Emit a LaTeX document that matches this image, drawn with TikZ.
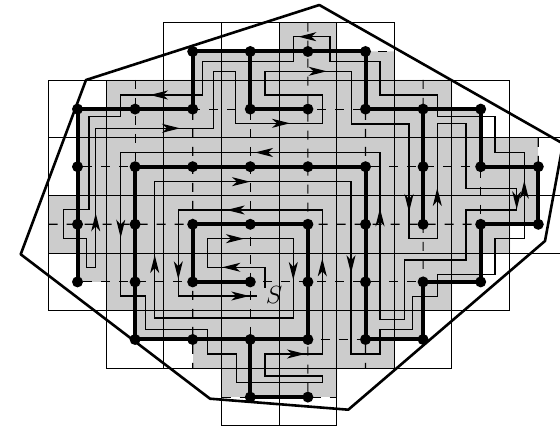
\documentclass[tikz,border=0pt]{standalone}
\usepackage{xcolor}
\usetikzlibrary{arrows.meta}

\begin{document}
\begin{tikzpicture}[x=1pt, y=-1pt,
  cell/.style={line width=1.15pt},
  vertex/.style={circle, fill=black, inner sep=0pt, outer sep=0pt, minimum size=11pt},
  treeedge/.style={line width=4pt},
  dualedge/.style={line width=1.15pt, dash pattern=on 9pt off 9pt},
  contour/.style={line width=1.15pt},
  dirtip/.style={line width=1.3pt, -{Stealth[length=18pt, width=9pt, inset=5pt]}},
  hull/.style={line width=2.6pt, line join=round}]
\clip (0,0) rectangle (560,427);
\fill[black!20] (279,22.7) -- (337,22.7) -- (337,51.5) -- (394.5,51.5) -- (394.5,80) -- (452,80) -- (452,109) -- (481,109) -- (481,138) -- (538,138) -- (538,224) -- (510,224) -- (510,253) -- (481,253) -- (481,282) -- (452,282) -- (452,310.7) -- (423,310.7) -- (423,339.5) -- (394.5,339.5) -- (394.5,368.3) -- (337,368.3) -- (337,397) -- (221.5,397) -- (221.5,368.3) -- (193,368.3) -- (193,339.5) -- (135,339.5) -- (135,310.7) -- (106.6,310.7) -- (106.6,282) -- (77.5,282) -- (77.5,253) -- (48.7,253) -- (48.7,195.3) -- (77.5,195.3) -- (77.5,109) -- (106.6,109) -- (106.6,80) -- (193,80) -- (193,51.5) -- (279,51.5) -- cycle;
\foreach \r/\first/\last in {0/2/5, 1/0/7, 2/0/8, 3/0/8, 4/0/7, 5/1/6, 6/3/4}
  \foreach \c in {\first,...,\last}
    \draw[cell] ({48.7+57.6*\c},{22.7+57.6*\r}) rectangle +(57.6,57.6);
\foreach \r/\first/\last in {0/2/5, 1/0/7, 2/0/8, 3/0/8, 4/0/7, 5/1/6, 6/3/4}
  \foreach \c in {\first,...,\last}
    \node[vertex] (n\c-\r) at ({77.5+57.6*\c},{51.5+57.6*\r}) {};
\coordinate (endrowa) at (394.5,51.5);
\coordinate (startrowd) at (48.7,224.3);
\coordinate (startrowg) at (221.5,397.1);
\coordinate (endrowg) at (337,397.1);
\coordinate (topb) at (135.1,80);
\coordinate (botc) at (192.7,368.3);
\coordinate (tope) at (307.9,22.7);
\coordinate (botf) at (365.5,368.3);
\coordinate (topg) at (423.1,80);
\coordinate (topi) at (538.3,138);
\foreach \a/\b in {n2-0/endrowa, n0-1/n7-1, n0-2/n8-2, startrowd/n8-3, n0-4/n7-4, n1-5/n6-5, startrowg/endrowg,
  topb/n1-5, n2-0/botc, n3-0/n3-6, tope/n4-6, n5-0/botf, topg/n6-5, n7-1/n7-4, topi/n8-3}
  \draw[dualedge] (\a) -- (\b);
\foreach \a/\b in {n0-4/n0-1, n0-1/n2-1, n2-1/n2-0, n2-0/n5-0, n5-0/n5-1, n5-1/n7-1, n7-1/n7-2, n7-2/n8-2, n8-2/n8-3, n8-3/n7-3, n7-3/n7-4, n7-4/n6-4, n6-4/n6-5, n6-5/n5-5, n5-5/n5-2, n5-2/n1-2, n1-2/n1-5, n1-5/n4-5, n4-5/n4-3, n4-3/n2-3, n2-3/n2-4, n2-4/n3-4, n3-0/n3-1, n3-1/n4-1, n6-1/n6-3, n3-5/n3-6, n3-6/n4-6}
  \draw[treeedge] (\a.center) -- (\b.center);
\draw[contour] (265,288) -- (265,267.3) -- (207.3,267.3) -- (207.3,238.7) -- (293.3,238.7) -- (293.3,318) -- (154.7,318) -- (154.7,181.7) -- (351,181.7) -- (351,354) -- (380,354) -- (380,329.7) -- (412.3,329.7) -- (412.3,296.3) -- (437.3,296.3) -- (437.3,274.7) -- (495,274.7) -- (495,238.7) -- (524.3,238.7) -- (524.3,152.5) -- (495,152.5) -- (495,116.7) -- (437.3,116.7) -- (437.3,95) -- (380,95) -- (380,61.7) -- (330,61.7) -- (330,36.7) -- (293.3,36.7) -- (293.3,61.3) -- (202.7,61.3) -- (202.7,95) -- (120.7,95) -- (120.7,116.7) -- (89,116.7) -- (89,209.3) -- (63.3,209.3) -- (63.3,238.3) -- (86.7,238.3) -- (86.7,267.3) -- (95.7,267.3) -- (95.7,128.3) -- (213.3,128.3) -- (213.3,71.5) -- (235.7,71.5) -- (235.7,123.3) -- (322.7,123.3) -- (322.7,95) -- (265,95) -- (265,71.3) -- (351.3,71.3) -- (351.3,124) -- (409,124) -- (409,238.7) -- (437.3,238.7) -- (437.3,123.7) -- (466,123.7) -- (466,188.3) -- (516.7,188.3) -- (516.7,210) -- (466,210) -- (466,260) -- (404.3,260) -- (404.3,319.7) -- (380,319.7) -- (380,152.5) -- (120.7,152.5) -- (120.7,296) -- (145.7,296) -- (145.7,329.7) -- (207.3,329.7) -- (207.3,354) -- (236.5,354) -- (236.5,382.7) -- (322.3,382.7) -- (322.3,376) -- (265,376) -- (265,354) -- (322.3,354) -- (322.3,210) -- (178.3,210) -- (178.3,296) -- (257.3,296);
\foreach \y/\a/\b in {95/178/150, 128.3/152/180, 152.5/283/255, 181.7/222/250, 210/255/226.7, 238.7/216/244, 267.3/250/222.3, 296/221/249.3, 36.7/326/298.3, 71.3/299/326.7, 123.3/262/290, 354/277/305}
  \draw[dirtip] (\a,\y) -- (\b,\y);
\foreach \x/\a/\b in {95.7/241/213.3, 120.7/210/237.7, 154.7/283/255, 178.3/252/279.3, 293.3/252/280, 322.3/286/258.3, 351/245/273.3, 380/236/208.3, 409/184/212, 437.3/216/188, 524.3/208/180.7, 516.7/188/209.3}
  \draw[dirtip] (\x,\a) -- (\x,\b);
\node (s) at (274,295.5) {\fontsize{24}{26}\selectfont $S$};
\draw[hull] (86,80) -- (319.3,5) -- (563,143.6) -- (545,241) -- (348.3,409.7) -- (210,398.7) -- (20.7,254.3) -- cycle;
\end{tikzpicture}
\end{document}
